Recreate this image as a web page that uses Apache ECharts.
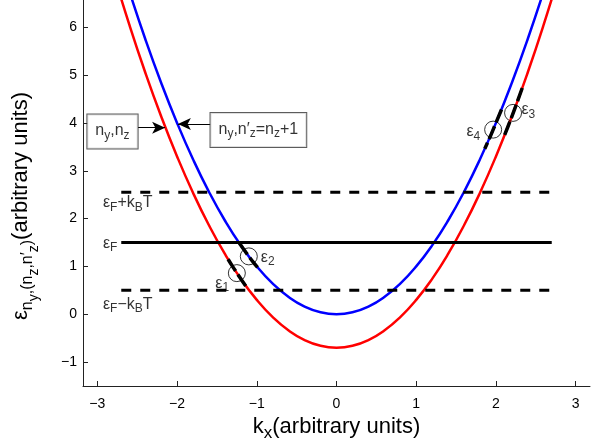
<!DOCTYPE html>
<html>
<head>
<meta charset="utf-8">
<script src="https://cdn.jsdelivr.net/npm/echarts@6/dist/echarts.min.js"></script>
<style>
  html, body { margin: 0; padding: 0; background: #fff; }
  #chart { width: 603px; height: 447px; }
</style>
</head>
<body>
<div id="chart"></div>
<script>
const FONT = "Liberation Sans";

// band curves
const kGrid = [-2.8, -2.6, -2.4, -2.2, -2.0, -1.8, -1.6, -1.4, -1.2, -1.0, -0.8, -0.6, -0.4, -0.2, 0,
  0.2, 0.4, 0.6, 0.8, 1.0, 1.2, 1.4, 1.6, 1.8, 2.0, 2.2, 2.4, 2.6, 2.8];
const blueE = [7.84, 6.76, 5.76, 4.84, 4.0, 3.24, 2.56, 1.96, 1.44, 1.0, 0.64, 0.36, 0.16, 0.04, 0,
  0.04, 0.16, 0.36, 0.64, 1.0, 1.44, 1.96, 2.56, 3.24, 4.0, 4.84, 5.76, 6.76, 7.84];
const redE = [7.14, 6.06, 5.06, 4.14, 3.3, 2.54, 1.86, 1.26, 0.74, 0.3, -0.06, -0.34, -0.54, -0.66, -0.7,
  -0.66, -0.54, -0.34, -0.06, 0.3, 0.74, 1.26, 1.86, 2.54, 3.3, 4.14, 5.06, 6.06, 7.14];

// Fermi level lines
const levelK = [-2.7, 2.7];
const fermiMinus = 0.5;
const fermi = 1.5;
const fermiPlus = 2.55;

// highlighted pieces of the bands (black)
const seg1 = [[-1.36, 1.15], [-1.30, 0.99], [-1.24, 0.84], [-1.18, 0.69], [-1.12, 0.55]];
const seg2 = [[-1.22, 1.49], [-1.16, 1.35], [-1.10, 1.21], [-1.04, 1.08], [-0.99, 0.98]];
const seg3 = [[2.33, 4.73], [2.27, 4.45], [2.21, 4.18], [2.15, 3.92], [2.09, 3.67]];
const seg4 = [[2.07, 4.28], [2.00, 4.00], [1.93, 3.72], [1.86, 3.46]];

// open circles
const circK = [-1.25, -1.10, 2.215, 1.965];
const circE = [0.86, 1.21, 4.21, 3.86];

// text labels
const labelText = [
  "{m|ε}{s|F}{m|+k}{s|B}{m|T}",
  "{m|ε}{s|F}",
  "{m|ε}{s|F}{m|−k}{s|B}{m|T}",
  "{m|ε}{s|1}",
  "{m|ε}{s|2}",
  "{m|ε}{s|3}",
  "{m|ε}{s|4}",
];
const labelK = [-2.93, -2.93, -2.93, -1.52, -0.95, 2.32, 1.63];
const labelE = [2.33, 1.48, 0.2, 0.65, 1.19, 4.27, 3.81];

// annotation boxes and arrows
const boxText = ["{m|n}{s|y}{m|,n}{s|z}", "{m|n}{s|y}{m|,n′}{s|z}{m|=n}{s|z}{m|+1}"];
const boxK = [-2.81, -0.98];
const boxE = [3.82, 3.85];
const arrowFrom = [[-2.49, 3.9], [-1.58, 3.98]];
const arrowTo = [[-2.15, 3.9], [-1.99, 3.98]];

const xTicks = [-3, -2, -1, 0, 1, 2, 3];
const yTicks = [-1, 0, 1, 2, 3, 4, 5, 6];

const richText = {
  m: { fontFamily: FONT, fontSize: 16, color: "#000" },
  s: { fontFamily: FONT, fontSize: 12, color: "#000", padding: [9, 0, 0, 0] },
};

const minusFmt = (v) => String(v).replace("-", "−");

const chart = echarts.init(document.getElementById("chart"));

const blackSeg = (data) => ({
  type: "line",
  data: data,
  symbol: "none",
  smooth: true,
  lineStyle: { color: "#000", width: 3.5, type: [14, 4] },
  z: 4,
});

const levelLine = (e, dashed) => ({
  type: "line",
  data: levelK.map((k) => [k, e]),
  symbol: "none",
  lineStyle: { color: "#000", width: 3, type: dashed ? [10, 9] : "solid" },
  z: 3,
});

chart.setOption({
  animation: false,
  grid: { left: 83, right: 13, top: 0, bottom: 58 },
  xAxis: {
    type: "value",
    min: -3.18,
    max: 3.18,
    name: "{m|k}{s|x}{m|(arbitrary units)}",
    nameLocation: "middle",
    nameGap: 26,
    nameTextStyle: {
      rich: {
        m: { fontFamily: FONT, fontSize: 22, color: "#000" },
        s: { fontFamily: FONT, fontSize: 17, color: "#000", padding: [13, 0, 0, 0] },
      },
    },
    axisLine: { onZero: false, lineStyle: { color: "#222", width: 1 } },
    axisTick: { inside: true, length: 5, customValues: xTicks, lineStyle: { color: "#222" } },
    axisLabel: {
      customValues: xTicks,
      formatter: minusFmt,
      fontFamily: FONT,
      fontSize: 14,
      color: "#000",
      margin: 11,
    },
    splitLine: { show: false },
  },
  yAxis: {
    type: "value",
    min: -1.5,
    max: 6.57,
    name: "{e|ε}{s1|n}{s2|y}{s1|,(n}{s2|z}{s1|,n′}{s2|z}{s1|)}{m|(arbitrary units)}",
    nameLocation: "middle",
    nameRotate: 90,
    nameGap: 42,
    nameTextStyle: {
      padding: [0, 26, 0, 0],
      rich: {
        e: { fontFamily: FONT, fontSize: 22, color: "#000" },
        m: { fontFamily: FONT, fontSize: 22, color: "#000" },
        s1: { fontFamily: FONT, fontSize: 16, color: "#000", padding: [13, 0, 0, 0] },
        s2: { fontFamily: FONT, fontSize: 14, color: "#000", padding: [26, 0, 0, 0] },
      },
    },
    axisLine: { show: true, onZero: false, lineStyle: { color: "#222", width: 1 } },
    axisTick: { show: true, inside: true, length: 5, customValues: yTicks, lineStyle: { color: "#222" } },
    axisLabel: {
      customValues: yTicks,
      formatter: minusFmt,
      fontFamily: FONT,
      fontSize: 14,
      color: "#000",
      margin: 6,
    },
    splitLine: { show: false },
  },
  series: [
    {
      type: "line",
      data: kGrid.map((k, i) => [k, redE[i]]),
      symbol: "none",
      smooth: true,
      lineStyle: { color: "#ff0000", width: 2.5 },
      z: 2,
    },
    {
      type: "line",
      data: kGrid.map((k, i) => [k, blueE[i]]),
      symbol: "none",
      smooth: true,
      lineStyle: { color: "#0000ff", width: 2.5 },
      z: 2,
    },
    levelLine(fermiPlus, true),
    levelLine(fermi, false),
    levelLine(fermiMinus, true),
    blackSeg(seg1),
    blackSeg(seg2),
    blackSeg(seg3),
    blackSeg(seg4),
    {
      type: "scatter",
      data: circK.map((k, i) => [k, circE[i]]),
      symbol: "circle",
      symbolSize: 17,
      itemStyle: { color: "rgba(0,0,0,0)", borderColor: "#000", borderWidth: 1 },
      z: 5,
    },
    {
      type: "scatter",
      data: labelK.map((k, i) => [k, labelE[i]]),
      symbolSize: 0,
      label: {
        show: true,
        position: "right",
        distance: 0,
        formatter: (p) => labelText[p.dataIndex],
        rich: richText,
      },
      z: 6,
    },
    {
      type: "scatter",
      data: boxK.map((k, i) => [k, boxE[i]]),
      symbolSize: 0,
      label: {
        show: true,
        position: "inside",
        formatter: (p) => boxText[p.dataIndex],
        rich: richText,
        backgroundColor: "#fff",
        borderColor: "#333",
        borderWidth: 1,
        padding: [6, 8, 7, 8],
      },
      markLine: {
        silent: true,
        symbol: ["none", "arrow"],
        symbolSize: [9, 13],
        label: { show: false },
        lineStyle: { color: "#000", width: 1, type: "solid" },
        data: arrowFrom.map((a, i) => [{ coord: a }, { coord: arrowTo[i] }]),
      },
      z: 6,
    },
  ],
});
</script>
</body>
</html>
